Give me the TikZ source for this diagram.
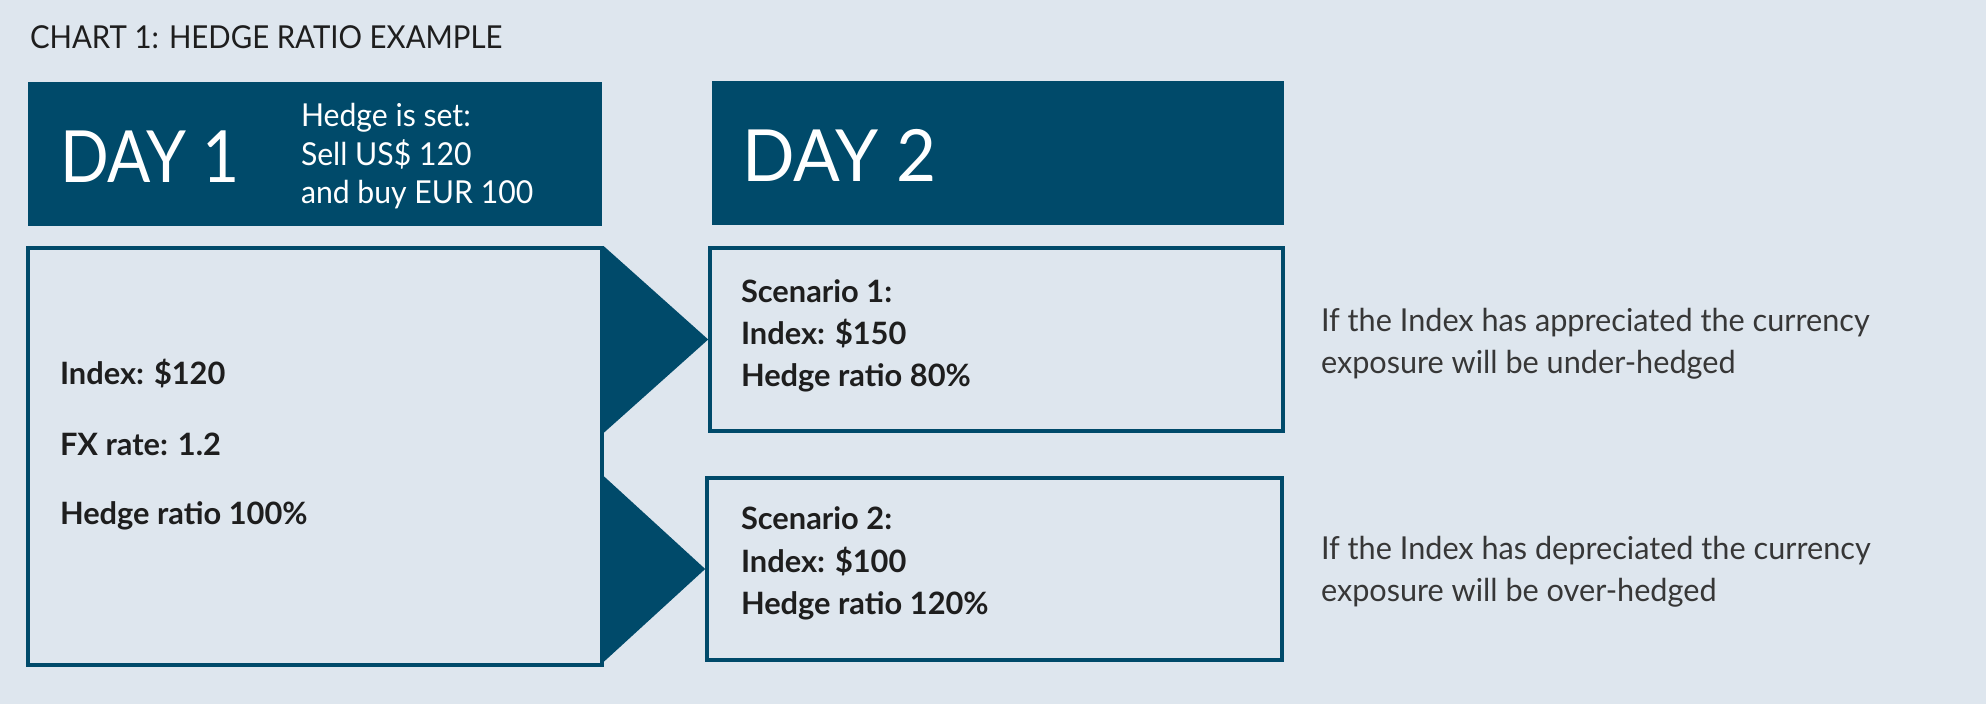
\documentclass[tikz,border=0pt]{standalone}
\usepackage{fontspec}
\setmainfont{Lato}
\newfontfamily\lightf{Lato}[FakeStretch=0.96]
\newfontfamily\dayonef{Lato}[FakeStretch=0.89]
\newfontfamily\titlef{Lato}[FakeStretch=0.93]
\newfontfamily\hedgef{Lato}[FakeStretch=0.955]
\newfontfamily\notef{Lato}[FakeStretch=0.97]
\newfontfamily\boldf{Lato Bold}[FakeStretch=1.0]
\usetikzlibrary{fit}
\definecolor{bg}{RGB}{222,230,238}
\definecolor{teal}{RGB}{0,74,106}
\definecolor{ink}{RGB}{30,30,30}
\definecolor{greyink}{RGB}{55,55,55}
\tikzset{
  px/.style={x=0.5pt,y=-0.5pt},
  darkbox/.style={fill=teal,draw=none,inner sep=0pt},
  outbox/.style={draw=teal,line width=1.8pt,fill=bg,inner sep=0pt},
  wedge/.style={fill=teal,draw=none},
  txt/.style={anchor=base west,inner sep=0pt,outer sep=0pt},
  boldtxt/.style={txt,text=ink,font=\boldf\fontsize{15.4}{17}\selectfont},
  notetxt/.style={txt,text=greyink,font=\notef\fontsize{15.8}{17}\selectfont},
  daytxt/.style={txt,text=white,font=\lightf\fontsize{36}{40}\selectfont},
  dayonetxt/.style={txt,text=white,font=\dayonef\fontsize{36}{40}\selectfont},
  hedgetxt/.style={txt,text=white,font=\hedgef\fontsize{15.8}{17}\selectfont},
  titletxt/.style={txt,text=ink,font=\titlef\fontsize{15.8}{17}\selectfont}
}
\begin{document}
\begin{tikzpicture}[px]
\fill[bg] (0,0) rectangle (1986,704);
\useasboundingbox (0,0) rectangle (1986,704);
\node[titletxt] (title) at (30,49) {CHART 1: HEDGE RATIO EXAMPLE};
% header boxes
\node[darkbox,fit={(28,82) (602,226)}] (day1) {};
\node[darkbox,fit={(712,81) (1284,225)}] (day2) {};
\node[dayonetxt] (d1t) at (60,183) {DAY 1};
\node[daytxt] (d2t) at (742,182) {DAY 2};
\node[hedgetxt] (h1) at (301,127) {Hedge is set:};
\node[hedgetxt] (h2) at (301,166) {Sell US\$ 120};
\node[hedgetxt] (h3) at (301,204) {and buy EUR 100};
% content boxes
\node[outbox,fit={(28,248) (602,665)}] (left) {};
\node[outbox,fit={(710,248) (1283,431)}] (s1) {};
\node[outbox,fit={(707,478) (1282,660)}] (s2) {};
% wedges
\fill[wedge] (left.east |- s1.north) -- (s1.west) -- (left.east |- s1.south) -- cycle;
\fill[wedge] (left.east |- s2.north) -- (s2.west) -- (left.east |- s2.south) -- cycle;
% texts
\node[boldtxt] (l1) at (60,385) {Index: \$120};
\node[boldtxt] (l2) at (60,456) {FX rate: 1.2};
\node[boldtxt] (l3) at (60,525) {Hedge ratio 100\%};
\node[boldtxt] (a1) at (741,303) {Scenario 1:};
\node[boldtxt] (a2) at (741,345) {Index: \$150};
\node[boldtxt] (a3) at (741,387) {Hedge ratio 80\%};
\node[boldtxt] (b1) at (741,530) {Scenario 2:};
\node[boldtxt] (b2) at (741,573) {Index: \$100};
\node[boldtxt] (b3) at (741,615) {Hedge ratio 120\%};
\node[notetxt] (n1) at (1321,332) {If the Index has appreciated the currency};
\node[notetxt] (n2) at (1321,374) {exposure will be under-hedged};
\node[notetxt] (n3) at (1321,560) {If the Index has depreciated the currency};
\node[notetxt] (n4) at (1321,602) {exposure will be over-hedged};
\end{tikzpicture}
\end{document}
